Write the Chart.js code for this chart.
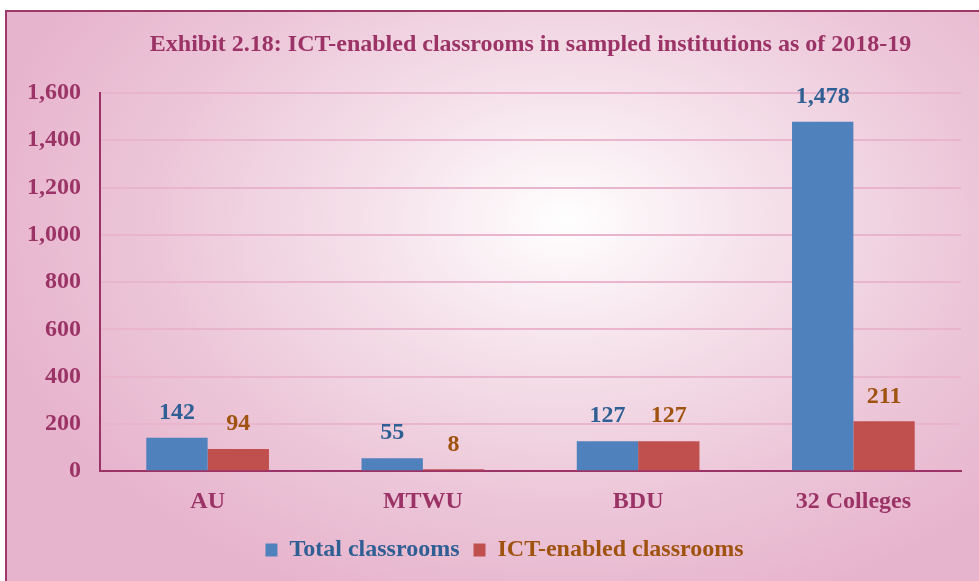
<!DOCTYPE html>
<html>
<head>
<meta charset="utf-8">
<script src="https://cdn.jsdelivr.net/npm/chart.js@4/dist/chart.umd.min.js"></script>
<style>
  html, body { margin: 0; padding: 0; background: #fff; }
  #wrap {
    position: absolute; left: 0; top: 0; width: 979px; height: 581px;
  }
  #frame {
    position: absolute; left: 5px; top: 10px; width: 980px; height: 580px;
    border-left: 2px solid #9b3a6a; border-top: 2px solid #9b3a6a;
    background: radial-gradient(ellipse 60% 70% at 57% 36%, #ffffff 0%, #f6e4ec 30%, #ecc6d8 70%, #e7b4cd 100%);
  }
  canvas { position: absolute; left: 0; top: 0; }
</style>
</head>
<body>
<div id="wrap">
  <div id="frame"></div>
  <canvas id="chart" width="979" height="581"></canvas>
</div>
<script>
const categories = ['AU', 'MTWU', 'BDU', '32 Colleges'];
const totalClassrooms = [142, 55, 127, 1478];
const ictClassrooms = [94, 8, 127, 211];
const titleText = 'Exhibit 2.18: ICT-enabled classrooms in sampled institutions as of 2018-19';
const magenta = '#9b3366';
const serif = "'Liberation Serif', 'Times New Roman', serif";

// value labels above bars, title centred on the plot area, legend nudged right
const labelPlugin = {
  id: 'barLabels',
  afterLayout(chart) {
    chart.legend.left += 24;
    chart.legend.right += 24;
  },
  afterDatasetsDraw(chart) {
    const ctx = chart.ctx;
    const area = chart.chartArea;
    ctx.save();
    ctx.font = 'bold 24px ' + serif;
    ctx.textAlign = 'center';
    ctx.textBaseline = 'middle';
    chart.data.datasets.forEach((ds, i) => {
      chart.getDatasetMeta(i).data.forEach((bar, j) => {
        ctx.fillStyle = ds.labelColor;
        ctx.fillText(ds.data[j].toLocaleString('en-US'), bar.x, bar.y - 25);
      });
    });
    ctx.fillStyle = magenta;
    ctx.fillText(titleText, (area.left + area.right) / 2, 45);
    ctx.restore();
  }
};

new Chart(document.getElementById('chart'), {
  type: 'bar',
  data: {
    labels: categories,
    datasets: [{
      label: 'Total classrooms',
      data: totalClassrooms,
      backgroundColor: '#4f81bd',
      labelColor: '#2f5f94'
    }, {
      label: 'ICT-enabled classrooms',
      data: ictClassrooms,
      backgroundColor: '#c0504d',
      labelColor: '#a0520f'
    }]
  },
  options: {
    responsive: false,
    animation: false,
    datasets: {
      bar: { categoryPercentage: 0.57, barPercentage: 1.0 }
    },
    layout: { padding: { left: 0, right: 18, top: 93, bottom: 9 } },
    plugins: {
      title: { display: false },
      legend: {
        position: 'bottom',
        labels: {
          boxWidth: 12,
          boxHeight: 13,
          padding: 14,
          font: { family: serif, size: 24, weight: 'bold' },
          generateLabels(chart) {
            return chart.data.datasets.map((ds, i) => ({
              text: ds.label,
              fillStyle: ds.backgroundColor,
              strokeStyle: ds.backgroundColor,
              lineWidth: 0,
              fontColor: ds.labelColor,
              datasetIndex: i
            }));
          }
        }
      },
      tooltip: { enabled: false }
    },
    scales: {
      x: {
        grid: { display: false },
        border: { color: magenta, width: 2 },
        ticks: {
          color: magenta,
          font: { family: serif, size: 24, weight: 'bold' },
          padding: 8
        }
      },
      y: {
        min: 0,
        max: 1600,
        afterFit(scale) { scale.width = 100; },
        grid: { color: '#e9b5cc', lineWidth: 2, drawTicks: false },
        border: { color: magenta, width: 2 },
        ticks: {
          stepSize: 200,
          color: magenta,
          font: { family: serif, size: 24, weight: 'bold' },
          padding: 19,
          callback: v => v.toLocaleString('en-US')
        }
      }
    }
  },
  plugins: [labelPlugin]
});
</script>
</body>
</html>
